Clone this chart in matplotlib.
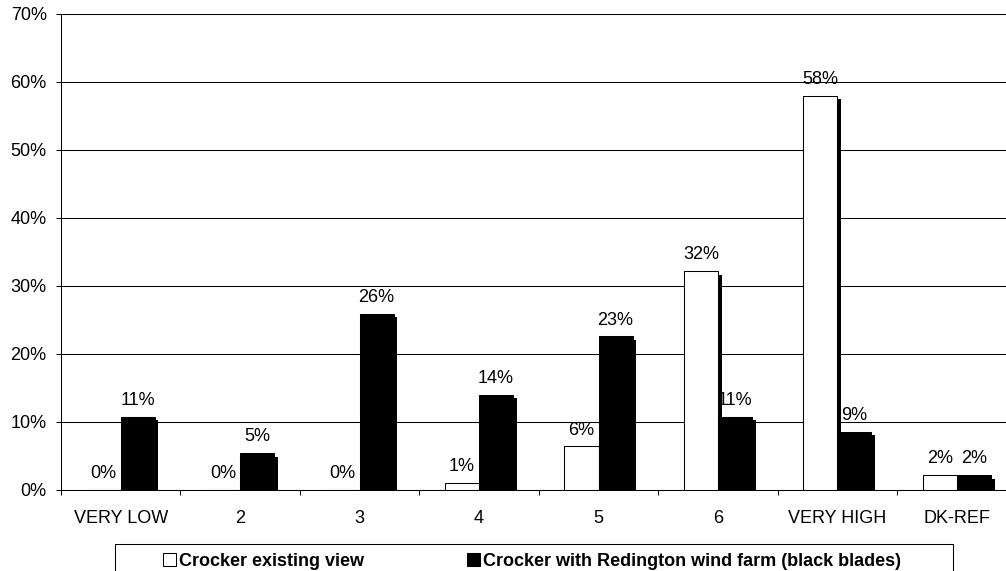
import numpy as np
import matplotlib
matplotlib.use("Agg")
import matplotlib.pyplot as plt
from matplotlib.patches import Rectangle
from matplotlib.transforms import offset_copy

plt.rcParams["font.family"] = ["Liberation Sans", "DejaVu Sans"]

categories = ["VERY LOW", "2", "3", "4", "5", "6", "VERY HIGH", "DK-REF"]
existing_view = [0.0, 0.0, 0.0, 1.1, 6.4, 32.2, 58.0, 2.2]
wind_farm_view = [10.8, 5.4, 25.9, 14.0, 22.6, 10.8, 8.6, 2.2]
series_names = ["Crocker existing view",
                "Crocker with Redington wind farm (black blades)"]
y_ticks = [0, 10, 20, 30, 40, 50, 60, 70]

W, H = 1006, 571
fig = plt.figure(figsize=(W / 100, H / 100), dpi=100)
ax = fig.add_axes([61 / W, 81 / H, 955.6 / W, 476 / H])

x = np.arange(len(categories))
bw = 0.285
lw = 0.75

# drop shadows behind each bar
shadow_tr = offset_copy(ax.transData, fig=fig, x=3.6, y=-3.6, units="dots")
for xs, vals in ((x - bw / 2, existing_view), (x + bw / 2, wind_farm_view)):
    sh = ax.bar(xs, vals, width=bw, color="black", linewidth=0, zorder=2)
    for p in sh.patches:
        p.set_transform(shadow_tr)

ax.bar(x - bw / 2, existing_view, width=bw, facecolor="white",
       edgecolor="black", linewidth=lw, zorder=3)
ax.bar(x + bw / 2, wind_farm_view, width=bw, facecolor="black",
       edgecolor="black", linewidth=lw, zorder=3)

for xs, vals in ((x - bw / 2, existing_view), (x + bw / 2, wind_farm_view)):
    for xi, v in zip(xs, vals):
        ax.annotate(f"{round(v):d}%", (xi, v), xytext=(0, 8.5),
                    textcoords="offset points", ha="center", va="baseline",
                    fontsize=13, zorder=5)

ax.set_xlim(-0.5, len(categories) - 0.5)
ax.set_ylim(0, 70)
ax.set_yticks(y_ticks)
ax.set_yticklabels([f"{t}%" for t in y_ticks])
ax.yaxis.grid(True, color="black", linewidth=lw)
ax.set_axisbelow(True)

ax.set_xticks(np.arange(-0.5, len(categories), 1.0))
ax.set_xticklabels([])
ax.set_xticks(x, minor=True)
ax.set_xticklabels(categories, minor=True)
ax.tick_params(axis="x", which="major", direction="out", length=3.6,
               width=lw, color="black")
ax.tick_params(axis="x", which="minor", length=0, pad=14.5, labelsize=13)
ax.tick_params(axis="y", direction="out", length=3.6, width=lw,
               pad=6.7, labelsize=13)

for side in ("top", "right"):
    ax.spines[side].set_visible(False)
for side in ("left", "bottom"):
    ax.spines[side].set_linewidth(lw)
    ax.spines[side].set_color("black")


def fx(px):
    return px / W


def fy(py):
    return (H - py) / H


# legend box along the bottom edge
fig.add_artist(Rectangle((fx(115), fy(582)), fx(953) - fx(115), fy(544) - fy(582),
                         transform=fig.transFigure, fill=False,
                         edgecolor="black", linewidth=lw, clip_on=False))
for sq_left, text_left, fc, name in ((163, 179, "white", series_names[0]),
                                     (467, 483, "black", series_names[1])):
    fig.add_artist(Rectangle((fx(sq_left), fy(566)), fx(13), fy(553) - fy(566),
                             transform=fig.transFigure, facecolor=fc,
                             edgecolor="black", linewidth=lw))
    fig.text(fx(text_left), fy(566), name, fontsize=13, fontweight="bold",
             ha="left", va="baseline")

fig.savefig("out.png", dpi=100)
